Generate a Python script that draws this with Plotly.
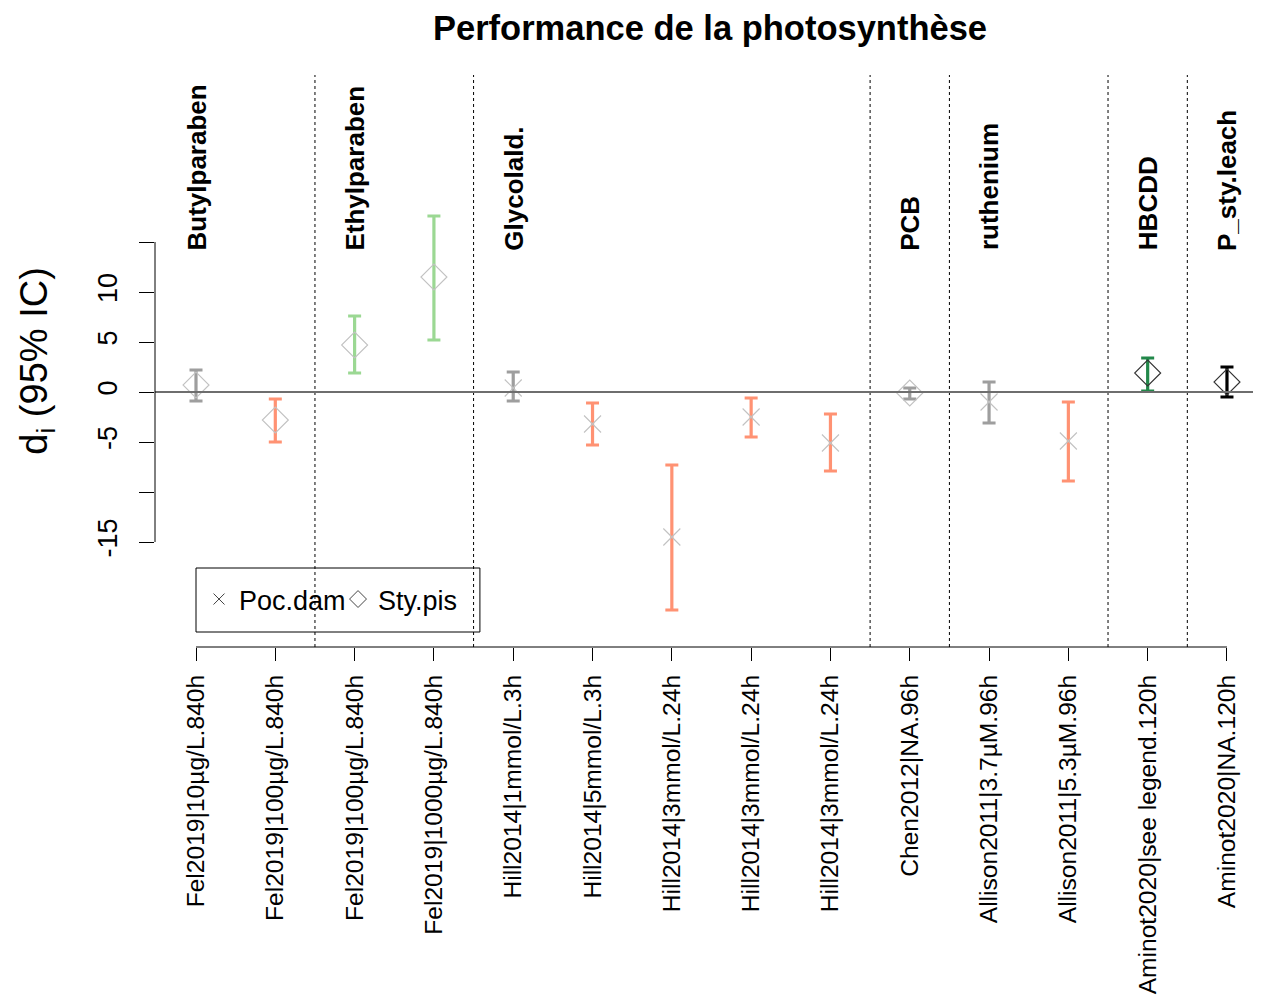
import plotly.graph_objects as go

# ---------------- data ----------------
study_labels = [
    "Fel2019|10µg/L.840h", "Fel2019|100µg/L.840h", "Fel2019|100µg/L.840h",
    "Fel2019|1000µg/L.840h", "Hill2014|1mmol/L.3h", "Hill2014|5mmol/L.3h",
    "Hill2014|3mmol/L.24h", "Hill2014|3mmol/L.24h", "Hill2014|3mmol/L.24h",
    "Chen2012|NA.96h", "Allison2011|3.7µM.96h", "Allison2011|5.3µM.96h",
    "Aminot2020|see legend.120h", "Aminot2020|NA.120h",
]
species = ["Sty.pis", "Sty.pis", "Sty.pis", "Sty.pis", "Poc.dam", "Poc.dam",
           "Poc.dam", "Poc.dam", "Poc.dam", "Sty.pis", "Poc.dam", "Poc.dam",
           "Sty.pis", "Sty.pis"]
d_mean = [0.7, -2.8, 4.7, 11.5, 0.4, -3.2, -14.5, -2.5, -5.1, -0.1, -1.0, -4.9, 1.9, 1.0]
ci_low = [-0.9, -5.0, 1.9, 5.2, -0.9, -5.3, -21.8, -4.5, -7.9, -0.7, -3.1, -8.9, 0.1, -0.5]
ci_high = [2.2, -0.7, 7.6, 17.6, 2.0, -1.1, -7.3, -0.6, -2.2, 0.4, 1.0, -1.0, 3.4, 2.5]
effect_class = ["ns", "neg", "pos", "pos", "ns", "neg", "neg", "neg", "neg",
                "ns", "ns", "neg", "dpos", "other"]
group_names = ["Butylparaben", "Ethylparaben", "Glycolald.", "PCB",
               "ruthenium", "HBCDD", "P_sty.leach"]
group_sizes = [2, 2, 5, 1, 2, 1, 1]
y_tick_vals = [-15, -10, -5, 0, 5, 10, 15]
y_tick_text = ["-15", "", "-5", "0", "5", "10", ""]

# ---------------- styles ----------------
class_colors = {"ns": "#9E9E9E", "neg": "#FF9273", "pos": "#9BD893",
                "dpos": "#22884A", "other": "#000000"}
FONT = "Liberation Sans, Arial, Helvetica, sans-serif"

x_pos = list(range(1, len(study_labels) + 1))

fig = go.Figure()

# error bars, one trace per colour class
for cls, col in class_colors.items():
    idx = [i for i, c in enumerate(effect_class) if c == cls]
    if not idx:
        continue
    fig.add_trace(go.Scatter(
        x=[x_pos[i] for i in idx],
        y=[d_mean[i] for i in idx],
        mode="markers",
        marker=dict(size=1, color="rgba(0,0,0,0)"),
        error_y=dict(type="data", symmetric=False,
                     array=[ci_high[i] - d_mean[i] for i in idx],
                     arrayminus=[d_mean[i] - ci_low[i] for i in idx],
                     color=col, thickness=3.2, width=6.5),
        showlegend=False, hoverinfo="skip",
    ))

# point markers
sym = {"Poc.dam": "x-thin-open", "Sty.pis": "diamond-open"}
msize = {"Poc.dam": 17, "Sty.pis": 20}
for sp in ["Poc.dam", "Sty.pis"]:
    idx = [i for i, s in enumerate(species) if s == sp]
    cols = ["#333333" if effect_class[i] in ("dpos", "other") else "#C2C2C2" for i in idx]
    fig.add_trace(go.Scatter(
        x=[x_pos[i] for i in idx], y=[d_mean[i] for i in idx],
        mode="markers",
        marker=dict(symbol=sym[sp], size=msize[sp], color=cols,
                    line=dict(width=1.1, color=cols)),
        showlegend=False, name=sp,
    ))
    # legend entry
    fig.add_trace(go.Scatter(
        x=[None], y=[None], mode="markers", name=sp,
        marker=dict(symbol=sym[sp], size=11 if sp == "Poc.dam" else 13,
                    color="#444444", line=dict(width=1, color="#444444")),
        showlegend=True,
    ))

shapes = []
annotations = []
# separators and group labels
start = 1
for name, n in zip(group_names, group_sizes):
    annotations.append(dict(
        x=start, y=13.95, xref="x", yref="y", text="<b>%s</b>" % name,
        textangle=-90, showarrow=False, xanchor="center", yanchor="bottom",
        font=dict(size=26, color="black", family=FONT),
    ))
    end = start + n - 1
    if end < len(study_labels):
        shapes.append(dict(type="line", xref="x", yref="paper",
                           x0=end + 0.5, x1=end + 0.5, y0=0, y1=1,
                           line=dict(color="black", width=1, dash="dot")))
    start = end + 1

# zero line
shapes.append(dict(type="line", xref="paper", yref="y", x0=0, x1=1, y0=0, y1=0,
                   line=dict(color="#6E6E6E", width=2)))
# R-style axis lines
shapes.append(dict(type="line", xref="paper", yref="y", x0=0, x1=0,
                   y0=min(y_tick_vals), y1=max(y_tick_vals),
                   line=dict(color="black", width=1)))
shapes.append(dict(type="line", xref="x", yref="paper", x0=x_pos[0], x1=x_pos[-1],
                   y0=0, y1=0, line=dict(color="black", width=1)))
# legend box
shapes.append(dict(type="rect", xref="x", yref="y", x0=1.0, x1=4.58, y0=-24.0, y1=-17.6,
                   line=dict(color="black", width=1), fillcolor="white", layer="below"))

fig.update_layout(
    width=1261, height=996,
    margin=dict(l=147, r=8, t=67, b=357, autoexpand=False),
    paper_bgcolor="white", plot_bgcolor="white",
    font=dict(family=FONT, color="black"),
    title=dict(text="<b>Performance de la photosynthèse</b>", x=0.5567, xanchor="center",
               y=0.9799, yanchor="middle", font=dict(size=34.5, color="black", family=FONT)),
    xaxis=dict(range=[0.483, 14.429], tickmode="array", tickvals=x_pos,
               ticktext=study_labels, tickangle=-90, ticks="outside", ticklen=13,
               tickcolor="black", tickwidth=1, showline=False, showgrid=False,
               zeroline=False, tickfont=dict(size=24.6, color="black", family=FONT),
               ticklabelstandoff=4),
    yaxis=dict(range=[-25.5, 31.7], tickmode="array", tickvals=y_tick_vals,
               ticktext=y_tick_text, tickangle=-90, ticks="outside", ticklen=15,
               tickcolor="black", tickwidth=1, showline=False, showgrid=False,
               zeroline=False, tickfont=dict(size=27, color="black", family=FONT),
               ticklabelstandoff=11,
               title=dict(text="d<sub>i</sub> (95% IC)", standoff=33,
                          font=dict(size=38, color="black", family=FONT))),
    legend=dict(orientation="h", x=0.0398, y=0.1259, xanchor="left", yanchor="top",
                borderwidth=0, bgcolor="rgba(0,0,0,0)",
                font=dict(size=27, color="black", family=FONT),
                itemwidth=30, entrywidth=94, traceorder="normal"),
    shapes=shapes, annotations=annotations, showlegend=True,
)

fig.write_html("out.html")
